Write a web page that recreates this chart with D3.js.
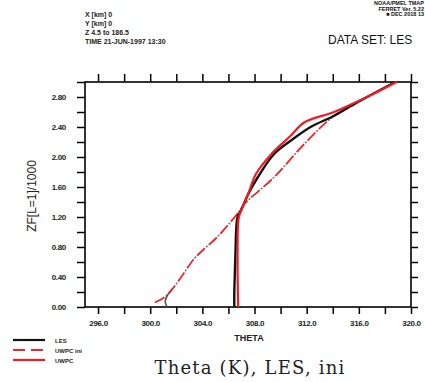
<!DOCTYPE html>
<html><head><meta charset="utf-8">
<script src="https://cdn.jsdelivr.net/npm/d3@7"></script>
<style>
body{margin:0;background:#fff;}
svg{display:block;}
</style></head>
<body>
<svg id="chart" width="425" height="382"></svg>
<script>
// ---- data ----
const xTickValues = [296, 300, 304, 308, 312, 316, 320];
const yTickValues = [0.0, 0.4, 0.8, 1.2, 1.6, 2.0, 2.4, 2.8];
const seriesNames = ["LES", "UWPC ini", "UWPC"];
// [theta, z/1000]
const lesTheta = [306.45, 306.45, 306.5, 306.55, 306.6, 306.7, 307.0, 307.5, 308.25, 309.5, 310.8, 312.3, 314.1, 315.9, 318.8];
const lesZ     = [0.00,   0.20,   0.50,   0.80,   1.05,  1.20,  1.30,  1.50,  1.73,   2.04,  2.22,  2.40,  2.55,  2.73,  3.00];
const iniTheta = [300.35, 301.1, 301.75, 302.5, 303.4, 304.05, 305.07, 306.1, 306.85, 307.2, 309.5, 311.8, 314.1, 315.9, 318.8];
const iniZ     = [0.06,   0.13,  0.25,   0.43,  0.65,  0.76,   0.92,   1.12,  1.28,   1.37,  1.73,  2.17,  2.55,  2.73,  3.00];
const lesIniTheta = [301.3, 301.15, 301.3, 301.75];
const lesIniZ     = [0.00,  0.07,   0.15,  0.25];
const uwpcTheta = [306.75, 306.72, 306.7, 306.7, 306.72, 306.8, 307.0, 307.5, 308.1, 309.3, 310.75, 311.8, 314.1, 315.9, 318.9];
const uwpcZ     = [0.00,   0.20,   0.50,  0.80,  1.05,   1.20,  1.30,  1.50,  1.77,  2.04,  2.28,   2.46,  2.60,  2.74,  3.00];

const svg = d3.select("#chart");
const L = 85, R = 411, T = 82, B = 307;
const x = d3.scaleLinear().domain([295, 320]).range([L, R]);
const y = d3.scaleLinear().domain([0, 3.0]).range([B, T]);
const tickFont = "'Liberation Sans', Arial, sans-serif";

// frame
svg.append("rect").attr("x", L).attr("y", T).attr("width", R - L).attr("height", B - T)
  .attr("fill", "none").attr("stroke", "#000").attr("stroke-width", 1.6);

const minorX = d3.range(296, 321, 2);
const minorY = d3.range(0, 3.01, 0.2);

// axes
const fmt = d3.format(".1f");
const fmtY = d3.format(".2f");
const gBottom = svg.append("g").attr("transform", `translate(0,${B})`)
  .call(d3.axisBottom(x).tickValues(minorX).tickSize(7).tickPadding(6)
    .tickFormat(d => xTickValues.includes(d) ? fmt(d) : ""));
const gTop = svg.append("g").attr("transform", `translate(0,${T})`)
  .call(d3.axisTop(x).tickValues(minorX).tickSize(8).tickFormat(""));
const gLeft = svg.append("g").attr("transform", `translate(${L},0)`)
  .call(d3.axisLeft(y).tickValues(minorY).tickSize(8).tickPadding(11)
    .tickFormat(d => yTickValues.some(v => Math.abs(v - d) < 1e-6) ? fmtY(d) : ""));
const gRight = svg.append("g").attr("transform", `translate(${R},0)`)
  .call(d3.axisRight(y).tickValues(minorY).tickSize(7).tickFormat(""));
[gBottom, gTop, gLeft, gRight].forEach(g => {
  g.select(".domain").remove();
  g.selectAll("line").attr("stroke", "#000").attr("stroke-width", 1.5);
  g.selectAll("text").attr("font-family", tickFont).attr("font-size", 8)
    .attr("font-weight", "bold").attr("fill", "#222").attr("letter-spacing", -0.3);
});

// lines
const line = d3.line().x(d => x(d[0])).y(d => y(d[1])).curve(d3.curveCatmullRom.alpha(0.5));
const zip = (a, b) => a.map((v, i) => [v, b[i]]);

svg.append("path").datum(zip(iniTheta, iniZ)).attr("d", line)
  .attr("fill", "none").attr("stroke", "#777").attr("stroke-width", 1.6)
  .attr("stroke-dasharray", "2,14").attr("stroke-dashoffset", -12.5);
svg.append("path").datum(zip(lesIniTheta, lesIniZ)).attr("d", line)
  .attr("fill", "none").attr("stroke", "#555").attr("stroke-width", 1.6);
svg.append("path").datum(zip(iniTheta, iniZ)).attr("d", line)
  .attr("fill", "none").attr("stroke", "#e8282d").attr("stroke-width", 1.8)
  .attr("stroke-dasharray", "11,5");
svg.append("path").datum(zip(lesTheta, lesZ)).attr("d", line)
  .attr("fill", "none").attr("stroke", "#111").attr("stroke-width", 2.4);
svg.append("path").datum(zip(uwpcTheta, uwpcZ)).attr("d", line)
  .attr("fill", "none").attr("stroke", "#ee1c24").attr("stroke-width", 2.2);

// axis titles
svg.append("text").attr("x", 249).attr("y", 341).attr("text-anchor", "middle")
  .attr("font-family", tickFont).attr("font-size", 9).attr("font-weight", "bold").attr("fill", "#222")
  .text("THETA");
svg.append("text").attr("transform", "translate(36,196) rotate(-90)").attr("text-anchor", "middle")
  .attr("font-family", tickFont).attr("font-size", 12).attr("fill", "#222")
  .text("ZF[L=1]/1000");

// header text
const hdr = ["X [km]   0", "Y [km]   0", "Z  4.5 to 186.5", "TIME  21-JUN-1997 13:30"];
const hdrY = [17, 25.5, 35, 44];
svg.append("g").selectAll("text").data(hdr).join("text")
  .attr("x", 85).attr("y", (d, i) => hdrY[i])
  .attr("font-family", tickFont).attr("font-size", 7).attr("font-weight", "bold").attr("fill", "#222")
  .text(d => d);
svg.append("text").attr("x", 328).attr("y", 44)
  .attr("font-family", tickFont).attr("font-size", 12).attr("fill", "#111")
  .text("DATA SET: LES");
const hdrR = ["NOAA/PMEL TMAP", "FERRET Ver. 5.22", "■ DEC 2018 13"];
svg.append("g").selectAll("text").data(hdrR).join("text")
  .attr("x", 424).attr("y", (d, i) => 5 + i * 5.5).attr("text-anchor", "end")
  .attr("font-family", tickFont).attr("font-size", 5.5).attr("font-weight", "bold").attr("fill", "#111")
  .text(d => d);

// legend
const legColors = ["#111", "#e8282d", "#ee1c24"];
const leg = svg.append("g");
seriesNames.forEach((n, i) => {
  const yy = 340 + i * 10;
  leg.append("line").attr("x1", 13).attr("x2", 45).attr("y1", yy).attr("y2", yy)
    .attr("stroke", legColors[i]).attr("stroke-width", 2.2)
    .attr("stroke-dasharray", i === 1 ? "12,6" : null);
  leg.append("text").attr("x", 55).attr("y", yy + 2.5)
    .attr("font-family", tickFont).attr("font-size", 6).attr("font-weight", "bold").attr("fill", "#222")
    .text(n);
});

// title
svg.append("text").attr("x", 250).attr("y", 374).attr("text-anchor", "middle")
  .attr("font-family", "'DejaVu Serif', 'Liberation Serif', serif").attr("font-size", 18).attr("fill", "#222")
  .attr("letter-spacing", 1.2)
  .text("Theta (K), LES, ini");
</script>
</body></html>
